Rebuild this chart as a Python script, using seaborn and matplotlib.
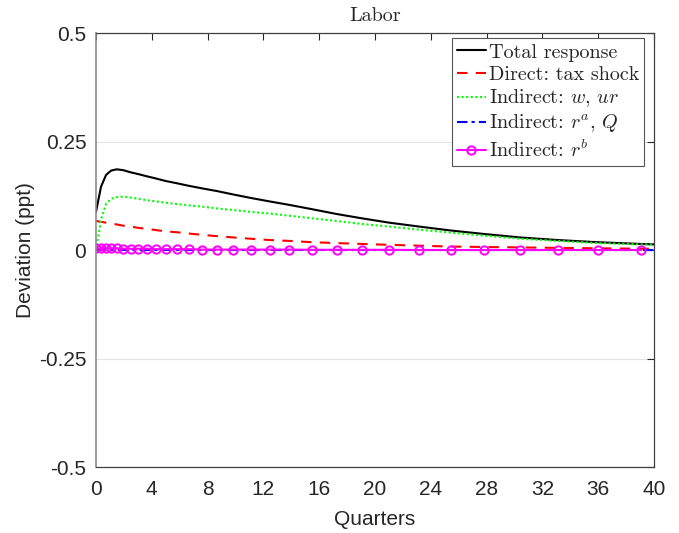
import matplotlib
matplotlib.use("Agg")
import matplotlib.pyplot as plt
import seaborn as sns

# time grid (quarters) used by the model output
quarters = [0, 0.36, 0.72, 1.08, 1.48, 1.96, 2.49, 3.03, 3.63, 4.28, 5.0, 5.78,
            6.65, 7.62, 8.65, 9.84, 11.09, 12.45, 13.86, 15.5, 17.25, 19.07,
            21.03, 23.18, 25.43, 27.81, 30.39, 33.1, 35.96, 39.05, 40]

total = [0.088, 0.146, 0.173, 0.183, 0.186, 0.184, 0.179, 0.175, 0.170, 0.165,
         0.159, 0.154, 0.148, 0.142, 0.136, 0.128, 0.120, 0.112, 0.104, 0.094,
         0.083, 0.073, 0.063, 0.054, 0.045, 0.037, 0.029, 0.023, 0.018, 0.014, 0.013]
direct_tax = [0.067, 0.065, 0.063, 0.061, 0.059, 0.056, 0.054, 0.051, 0.049, 0.046,
              0.043, 0.041, 0.038, 0.035, 0.032, 0.029, 0.026, 0.023, 0.021, 0.018,
              0.016, 0.014, 0.012, 0.010, 0.008, 0.007, 0.006, 0.005, 0.004, 0.003, 0.003]
indirect_w = [0.0, 0.070, 0.106, 0.118, 0.122, 0.123, 0.121, 0.118, 0.115, 0.112,
              0.109, 0.106, 0.103, 0.100, 0.096, 0.092, 0.088, 0.084, 0.079, 0.073,
              0.067, 0.060, 0.054, 0.047, 0.040, 0.033, 0.026, 0.021, 0.016, 0.013, 0.012]
indirect_ra = [-0.0005] * 31
indirect_rb = [0.004, 0.004, 0.004, 0.004, 0.004, 0.003, 0.003, 0.003, 0.003, 0.002,
               0.002, 0.002, 0.002, 0.001, 0.001, 0.001, 0.001, 0.001, 0.001, 0.0005,
               0.0005, 0.0005, 0.0005, 0.0, 0.0, 0.0, 0.0, 0.0, 0.0, 0.0, 0.0]

xticks = [0, 4, 8, 12, 16, 20, 24, 28, 32, 36, 40]
yticks = [-0.5, -0.25, 0, 0.25, 0.5]
ytick_labels = ['-0.5', '-0.25', '0', '0.25', '0.5']

sns.set_style("white")
plt.rcParams['font.family'] = ['Liberation Sans', 'DejaVu Sans']
plt.rcParams['mathtext.fontset'] = 'cm'
plt.rcParams['axes.unicode_minus'] = False

fig = plt.figure(figsize=(6.79, 5.33), dpi=100)
ax = fig.add_axes([0.1414, 0.1238, 0.8218, 0.8142])

ax.yaxis.grid(True, color='#e3e3e3', linewidth=0.8)
ax.set_axisbelow(True)

sns.lineplot(x=quarters, y=total, ax=ax, color='black', linewidth=1.5,
             label='Total response')
sns.lineplot(x=quarters, y=direct_tax, ax=ax, color='red', linewidth=1.5,
             linestyle=(0, (5, 4)), label='Direct: tax shock')
sns.lineplot(x=quarters, y=indirect_w, ax=ax, color='#00ff00', linewidth=1.5,
             linestyle=(0, (1, 1.2)), label=r'Indirect: $w$, $ur$')
sns.lineplot(x=quarters, y=indirect_ra, ax=ax, color='blue', linewidth=1.5,
             linestyle=(0, (5, 2, 1.5, 2)), label=r'Indirect: $r^a$, $Q$')
sns.lineplot(x=quarters[:-1], y=indirect_rb[:-1], ax=ax, color='magenta', linewidth=1.5,
             marker='o', markersize=6, markerfacecolor='none',
             markeredgecolor='magenta', markeredgewidth=1.4,
             label=r'Indirect: $r^b$')

ax.set_xlim(0, 40)
ax.set_ylim(-0.5, 0.5)
ax.set_xticks(xticks)
ax.set_yticks(yticks)
ax.set_yticklabels(ytick_labels)
ax.tick_params(direction='in', length=5, width=0.8, top=True, right=True,
               labelsize=15, colors='#262626')
ax.tick_params(axis='x', pad=9)
ax.tick_params(axis='y', pad=7)
for side, sp in ax.spines.items():
    sp.set_visible(True)
    sp.set_color('#404040')
    sp.set_linewidth(0.9)
ax.spines['left'].set_color('#8c8c8c')
ax.spines['left'].set_linewidth(1.2)

ax.set_xlabel('Quarters', fontsize=15, color='#262626', labelpad=8)
ax.set_ylabel('Deviation (ppt)', fontsize=15, color='#262626', labelpad=3)
ax.set_title('Labor', fontsize=14.5, family='cmr10', pad=9)

leg = ax.legend(loc='upper right', bbox_to_anchor=(0.99, 0.997), fancybox=False,
                edgecolor='#555555', framealpha=1, handlelength=1.45,
                handletextpad=0.15, borderaxespad=0.2, labelspacing=0.2,
                borderpad=0.25, prop={'family': 'cmr10', 'size': 14.5})
leg.get_frame().set_linewidth(0.8)

fig.savefig('out.png', dpi=100)
